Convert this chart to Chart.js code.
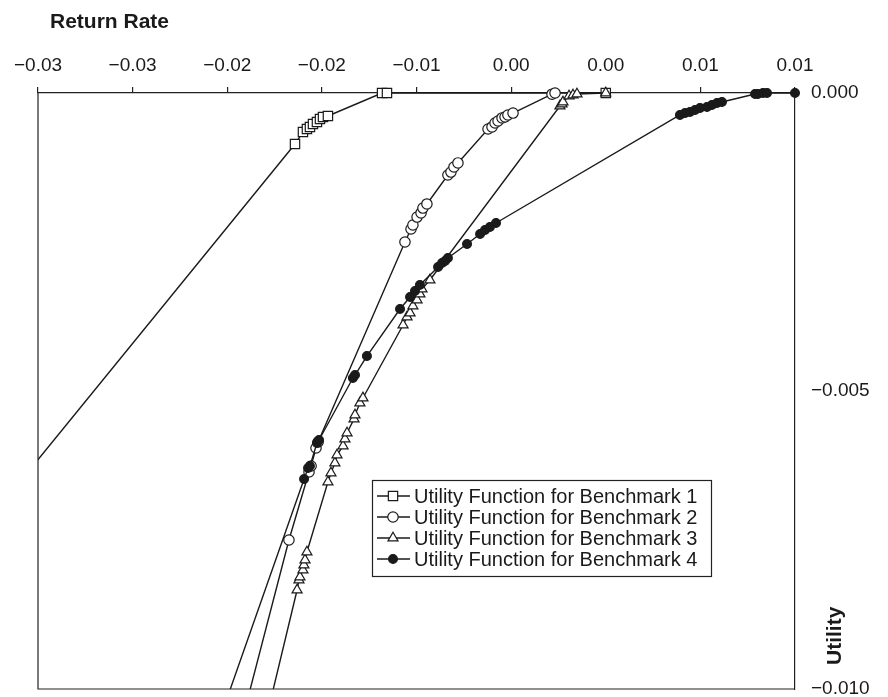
<!DOCTYPE html>
<html><head><meta charset="utf-8">
<script src="https://cdn.jsdelivr.net/npm/chart.js@4/dist/chart.umd.min.js"></script>
<style>html,body{margin:0;padding:0;background:#fff;}canvas{display:block;}</style>
</head><body>
<canvas id="c" width="888" height="697"></canvas>
<script>
const seriesNames = ['Utility Function for Benchmark 1','Utility Function for Benchmark 2','Utility Function for Benchmark 3','Utility Function for Benchmark 4'];

const b1X = [-0.0450, -0.01642, -0.01600, -0.01579, -0.01563, -0.01547, -0.01526, -0.01510, -0.01494, -0.01468, -0.01182, -0.01156, 0.0000];
const b1Y = [-0.0120, -0.000856, -0.000654, -0.000604, -0.000570, -0.000520, -0.000487, -0.000436, -0.000403, -0.000386, 0, 0, 0];

const b2X = [-0.02042, -0.01674, -0.01568, -0.01557, -0.01531, -0.01520, -0.01061, -0.01029, -0.01019, -0.00997, -0.00976, -0.00966, -0.00945, -0.00834, -0.00818, -0.00802, -0.00781, -0.00622, -0.00601, -0.00585, -0.00569, -0.00548, -0.00532, -0.00517, -0.00490, -0.00284, -0.00268];
const b2Y = [-0.0120, -0.00750, -0.006359, -0.006258, -0.005956, -0.005856, -0.002500, -0.002282, -0.002215, -0.002081, -0.002013, -0.001930, -0.001862, -0.001376, -0.001326, -0.001242, -0.001174, -0.000604, -0.000570, -0.000503, -0.000470, -0.000419, -0.000403, -0.000369, -0.000336, -0.00002, 0];

const b3X = [-0.01908, -0.01631, -0.01621, -0.01616, -0.01600, -0.01595, -0.01589, -0.01579, -0.01468, -0.01452, -0.01431, -0.01420, -0.01388, -0.01378, -0.01367, -0.01330, -0.01325, -0.01299, -0.01283, -0.01071, -0.01050, -0.01034, -0.01019, -0.00997, -0.00982, -0.00971, -0.00929, -0.00242, -0.00231, -0.00226, -0.00194, -0.00173, -0.00152, 0];
const b3Y = [-0.0120, -0.008339, -0.008171, -0.008121, -0.008003, -0.007919, -0.007836, -0.007701, -0.006527, -0.006376, -0.006208, -0.006074, -0.005923, -0.005805, -0.005705, -0.005470, -0.005403, -0.005201, -0.005117, -0.003893, -0.003758, -0.003691, -0.003574, -0.003473, -0.003372, -0.003289, -0.003138, -0.000218, -0.000185, -0.000151, -0.000050, -0.000034, -0.000017, 0];

const b4X = [-0.02205, -0.01594, -0.01573, -0.01563, -0.01526, -0.01515, -0.01336, -0.01325, -0.01262, -0.01087, -0.01034, -0.01008, -0.00982, -0.00886, -0.00865, -0.00849, -0.00834, -0.00733, -0.00664, -0.00638, -0.00612, -0.00580, 0.00392, 0.00419, 0.00445, 0.00472, 0.00498, 0.00535, 0.00561, 0.00588, 0.00614, 0.00789, 0.00804, 0.00831, 0.00852, 0.0100];
const b4Y = [-0.0120, -0.006477, -0.006292, -0.006258, -0.005872, -0.005822, -0.004782, -0.004732, -0.004413, -0.003624, -0.003423, -0.003322, -0.003221, -0.002919, -0.002852, -0.002819, -0.002768, -0.002534, -0.002366, -0.002299, -0.002248, -0.002181, -0.000369, -0.000336, -0.000319, -0.000285, -0.000252, -0.000235, -0.000201, -0.000168, -0.000151, -0.000017, -0.000017, 0, 0, 0];

const xTickValues = [-0.030, -0.025, -0.020, -0.015, -0.010, -0.005, 0.000, 0.005, 0.010];
const xTickLabels = ['\u22120.03', '\u22120.03', '\u22120.02', '\u22120.02', '\u22120.01', '0.00', '0.00', '0.01', '0.01'];
const yTickValues = [-0.010, -0.005, 0.000];
const yTickLabels = ['\u22120.010', '\u22120.005', '0.000'];
const xTitle = 'Return Rate';
const yTitle = 'Utility';

const FONT = "'Liberation Sans', Arial, Helvetica, sans-serif";
const INK = '#1a1a1a';

function pts(xs, ys) { return xs.map((x, i) => ({ x: x, y: ys[i] })); }

const styles = [
  { pointStyle: 'rect', radius: 6.6, fill: '#ffffff' },
  { pointStyle: 'circle', radius: 5.2, fill: '#ffffff' },
  { pointStyle: 'triangle', radius: 5.8, fill: '#ffffff' },
  { pointStyle: 'circle', radius: 4.4, fill: INK }
];
const allX = [b1X, b2X, b3X, b4X];
const allY = [b1Y, b2Y, b3Y, b4Y];

const datasets = seriesNames.map((name, i) => ({
  label: name,
  data: pts(allX[i], allY[i]),
  showLine: true,
  tension: 0,
  borderColor: INK,
  borderWidth: 1.4,
  pointStyle: styles[i].pointStyle,
  pointRadius: styles[i].radius,
  pointHoverRadius: styles[i].radius,
  pointBackgroundColor: styles[i].fill,
  pointBorderColor: INK,
  pointBorderWidth: 1.2,
  order: 4 - i,
  clip: { left: 0, top: 12, right: 12, bottom: 0 }
}));

function drawMarker(ctx, style, r, x, y, fill) {
  ctx.save();
  ctx.fillStyle = fill; ctx.strokeStyle = INK; ctx.lineWidth = 1.2;
  ctx.beginPath();
  if (style === 'rect') {
    const s = Math.SQRT1_2 * r;
    ctx.rect(x - s, y - s, 2 * s, 2 * s);
  } else if (style === 'triangle') {
    let a = 0;
    ctx.moveTo(x + Math.sin(a) * r, y - Math.cos(a) * r);
    a += 2 * Math.PI / 3;
    ctx.lineTo(x + Math.sin(a) * r, y - Math.cos(a) * r);
    a += 2 * Math.PI / 3;
    ctx.lineTo(x + Math.sin(a) * r, y - Math.cos(a) * r);
    ctx.closePath();
  } else {
    ctx.arc(x, y, r, 0, Math.PI * 2);
  }
  ctx.fill(); ctx.stroke();
  ctx.restore();
}

const decor = {
  id: 'decor',
  afterDraw(chart) {
    const ctx = chart.ctx, a = chart.chartArea;
    ctx.save();
    // frame left + bottom
    ctx.strokeStyle = '#222'; ctx.lineWidth = 1.2;
    ctx.beginPath();
    ctx.moveTo(a.left, a.top); ctx.lineTo(a.left, a.bottom); ctx.lineTo(a.right, a.bottom);
    ctx.stroke();
    // titles
    ctx.fillStyle = INK;
    ctx.font = "bold 21px " + FONT;
    ctx.textAlign = 'left'; ctx.textBaseline = 'alphabetic';
    ctx.fillText(xTitle, 50, 28);
    ctx.save();
    ctx.translate(841, 665);
    ctx.rotate(-Math.PI / 2);
    ctx.fillText(yTitle, 0, 0);
    ctx.restore();
    // legend
    const lx = 372, ly = 480, lw = 339, lh = 96;
    ctx.fillStyle = '#fff';
    ctx.fillRect(lx, ly, lw, lh);
    ctx.strokeStyle = '#222'; ctx.lineWidth = 1.2;
    ctx.strokeRect(lx + 0.5, ly + 0.5, lw, lh);
    ctx.font = "20px " + FONT;
    ctx.textBaseline = 'middle';
    seriesNames.forEach((name, i) => {
      const y = ly + 16 + i * 21;
      ctx.strokeStyle = INK; ctx.lineWidth = 1.4;
      ctx.beginPath(); ctx.moveTo(lx + 5, y); ctx.lineTo(lx + 38, y); ctx.stroke();
      drawMarker(ctx, styles[i].pointStyle, styles[i].radius, lx + 21, y, styles[i].fill);
      ctx.fillStyle = INK;
      ctx.fillText(name, lx + 42, y + 1);
    });
    ctx.restore();
  }
};

new Chart(document.getElementById('c'), {
  type: 'scatter',
  data: { datasets: datasets },
  plugins: [decor],
  options: {
    responsive: false,
    animation: false,
    devicePixelRatio: 1,
    layout: { padding: { left: 38, right: 0, top: 0, bottom: 8 } },
    plugins: { legend: { display: false }, tooltip: { enabled: false } },
    scales: {
      x: {
        type: 'linear', position: 'top', min: -0.03, max: 0.01,
        afterBuildTicks: s => { s.ticks = xTickValues.map(v => ({ value: v })); },
        afterFit: s => { s.height = 93; },
        ticks: {
          callback: (v, i) => xTickLabels[i],
          font: { family: FONT, size: 19 }, color: INK, padding: 10,
          maxRotation: 0, autoSkip: false
        },
        grid: { display: true, drawOnChartArea: false, drawTicks: true, tickLength: 6, color: '#222', lineWidth: 1.2 },
        border: { display: true, color: '#222', width: 1.2 }
      },
      y: {
        type: 'linear', position: 'right', min: -0.01, max: 0,
        afterBuildTicks: s => { s.ticks = yTickValues.map(v => ({ value: v })); },
        afterFit: s => { s.width = 93; s.paddingTop = 0; s.paddingBottom = 0; },
        ticks: {
          callback: (v, i) => yTickLabels[i],
          font: { family: FONT, size: 19 }, color: INK, padding: 16
        },
        grid: { display: false, drawTicks: false },
        border: { display: true, color: '#222', width: 1.2 }
      }
    }
  }
});
</script>
</body></html>
